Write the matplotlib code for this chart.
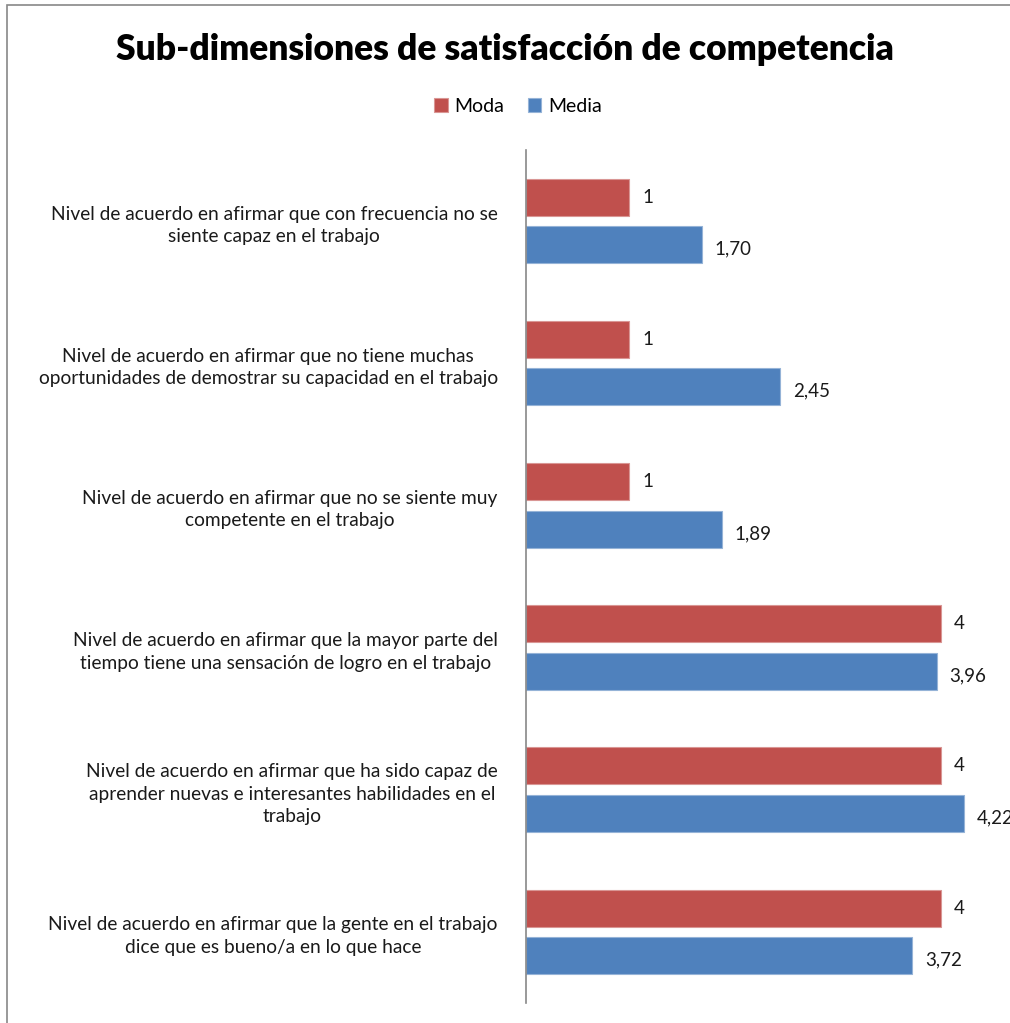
import matplotlib.pyplot as plt
import numpy as np
from matplotlib.patches import Rectangle

# datos
categorias = [
    "Nivel de acuerdo en afirmar que con frecuencia no se\nsiente capaz en el trabajo",
    "Nivel de acuerdo en afirmar que no tiene muchas\noportunidades de demostrar su capacidad en el trabajo",
    "Nivel de acuerdo en afirmar que no se siente muy\ncompetente en el trabajo",
    "Nivel de acuerdo en afirmar que la mayor parte del\ntiempo tiene una sensación de logro en el trabajo",
    "Nivel de acuerdo en afirmar que ha sido capaz de\naprender nuevas e interesantes habilidades en el\ntrabajo",
    "Nivel de acuerdo en afirmar que la gente en el trabajo\ndice que es bueno/a en lo que hace",
]
moda = [1, 1, 1, 4, 4, 4]
media = [1.70, 2.45, 1.89, 3.96, 4.22, 3.72]
etiquetas_moda = ["1", "1", "1", "4", "4", "4"]
etiquetas_media = ["1,70", "2,45", "1,89", "3,96", "4,22", "3,72"]

ROJO = "#C0504D"
AZUL = "#4F81BD"
FUENTE = "Lato"

fig = plt.figure(figsize=(10.10, 10.23), dpi=100)
ax = fig.add_axes([0.5203, 0.0196, 0.4797, 0.8338])

n = len(categorias)
y = np.arange(n)
alto = 0.26
sep = 0.167

ax.barh(y - sep, moda, height=alto, color=ROJO, edgecolor="#D99694", linewidth=0.8, label="Moda")
ax.barh(y + sep, media, height=alto, color=AZUL, edgecolor="#95B3D7", linewidth=0.8, label="Media")

for i in range(n):
    ax.text(moda[i] + 0.12, y[i] - sep, etiquetas_moda[i], va="center", ha="left",
            fontsize=13.5, family=FUENTE, color="#1a1a1a")
    ax.text(media[i] + 0.12, y[i] + sep + 0.03, etiquetas_media[i], va="center", ha="left",
            fontsize=13.5, family=FUENTE, color="#1a1a1a", clip_on=False)

ax.set_ylim(n - 0.5, -0.5)
ax.set_xlim(0, 4.66)
ax.set_yticks(y)
ax.set_yticklabels(categorias, fontsize=13.8, family=FUENTE, multialignment="center",
                   color="#1a1a1a", linespacing=1.4)
ax.tick_params(axis="y", length=0, pad=20)
ax.set_xticks([])
for lado in ["top", "right", "bottom"]:
    ax.spines[lado].set_visible(False)
ax.spines["left"].set_color("#888888")
ax.spines["left"].set_linewidth(1.2)

fig.text(0.5, 0.952, "Sub-dimensiones de satisfacción de competencia", ha="center", va="center",
         fontsize=25.5, fontweight="heavy", family=FUENTE, color="black")

h, l = ax.get_legend_handles_labels()
fig.legend(h, l, loc="center", bbox_to_anchor=(0.513, 0.896), ncol=2, frameon=False,
           prop={"family": FUENTE, "size": 14}, handlelength=0.7, handleheight=0.7,
           handletextpad=0.35, columnspacing=1.2)

# borde del area del grafico
fig.patches.append(Rectangle((7 / 1010, -0.1), 1.2, 1 - 5 / 1023 + 0.1, transform=fig.transFigure,
                             fill=False, edgecolor="#888888", linewidth=1.2))

fig.savefig("out.png", dpi=100)
